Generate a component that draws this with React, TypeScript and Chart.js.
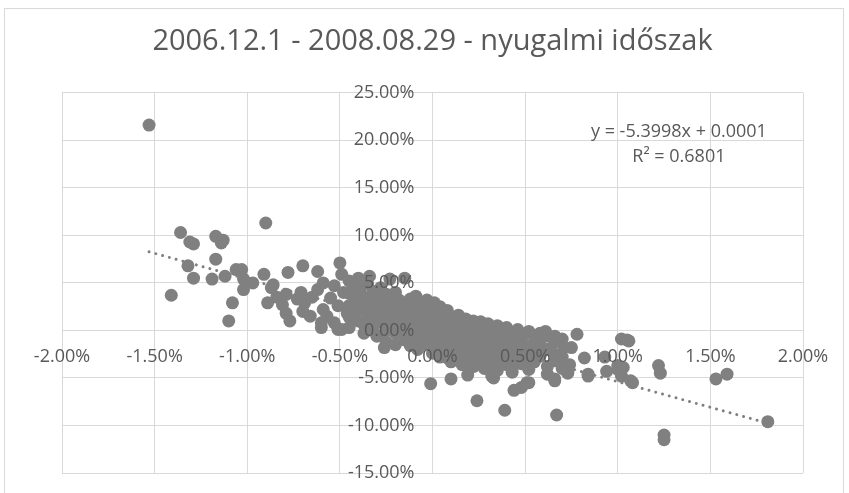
import React, { useEffect, useRef } from "react";
import { Chart, registerables } from "chart.js";

Chart.register(...registerables);

// Values in percent: [x = index return %, y = return %]
const leftTail: [number, number][] = [
  [-1.53, 21.6], [-1.36, 10.3], [-1.31, 9.3], [-1.29, 9.1], [-1.32, 6.8], [-1.29, 5.5],
  [-1.41, 3.7], [-1.17, 9.9], [-1.13, 9.5], [-1.14, 9.2], [-1.17, 7.5], [-1.19, 5.4],
  [-1.12, 5.7], [-1.06, 6.4], [-1.03, 6.4], [-1.02, 5.4], [-0.97, 5.0], [-1.02, 4.3],
  [-1.08, 2.9], [-1.10, 1.0], [-0.90, 11.3], [-0.91, 5.9], [-0.87, 4.5], [-0.86, 4.8],
  [-0.89, 2.9], [-0.78, 6.1], [-0.70, 6.8], [-0.62, 6.2], [-0.50, 7.1],
];

const leftMid: [number, number][] = [
  [-0.79, 3.8], [-0.71, 4.0], [-0.79, 1.8], [-0.70, 2.0], [-0.81, 2.7], [-0.69, 2.9],
  [-0.77, 1.0], [-0.60, 0.8], [-0.62, 4.3], [-0.59, 5.0], [-0.55, 3.4], [-0.59, 2.2],
  [-0.53, 4.7], [-0.51, 2.6], [-0.51, 0.1], [-0.53, 0.8], [-0.49, 0.1], [-0.49, 5.9],
  [-0.57, 1.5], [-0.65, 3.5], [-0.66, 1.5], [-0.48, 4.0], [-0.46, 1.8], [-0.73, 3.3],
  [-0.84, 3.5], [-0.60, 0.3], [-0.34, 5.7], [-0.23, 5.4], [-0.15, 5.5], [-0.09, 3.6],
  [0.01, 2.9], [-0.26, -1.8], [-0.30, -0.6], [-0.17, -0.2], [-0.14, -0.6], [-0.08, -1.3],
  [-0.39, 4.3], [-0.42, 1.5], [-0.33, 0.5],
];

const centerCluster: [number, number][] = [
  [-0.45, 5.2], [-0.45, 3.9], [-0.45, 2.6], [-0.45, 1.4], [-0.45, 0.3],
  [-0.42, 4.6], [-0.42, 3.1], [-0.42, 1.8],
  [-0.40, 5.5], [-0.40, 4.0], [-0.40, 2.8], [-0.40, 1.0],
  [-0.37, 3.5], [-0.37, 2.3], [-0.37, 0.6], [-0.37, -0.3],
  [-0.35, 4.9], [-0.35, 3.0], [-0.35, 1.7],
  [-0.32, 4.1], [-0.32, 2.5], [-0.32, 1.2], [-0.32, 0.2],
  [-0.30, 3.3], [-0.30, 1.9], [-0.30, -0.5],
  [-0.28, 4.5], [-0.28, 2.7], [-0.28, 0.9],
  [-0.25, 3.8], [-0.25, 2.2], [-0.25, 1.4], [-0.25, 0.0], [-0.25, -1.2],
  [-0.22, 3.0], [-0.22, 1.8], [-0.22, 0.6],
  [-0.20, 4.0], [-0.20, 2.5], [-0.20, 1.1], [-0.20, -0.3], [-0.20, -1.5],
  [-0.18, 3.2], [-0.18, 1.6], [-0.18, 0.3],
  [-0.15, 2.8], [-0.15, 2.0], [-0.15, 0.9], [-0.15, -0.5], [-0.15, -1.0],
  [-0.12, 3.3], [-0.12, 1.4], [-0.12, 0.2], [-0.12, -1.6],
  [-0.10, 2.5], [-0.10, 1.7], [-0.10, 0.6], [-0.10, -0.4],
  [-0.08, 2.9], [-0.08, 1.0], [-0.08, -0.8], [-0.08, -2.0],
  [-0.05, 2.2], [-0.05, 1.3], [-0.05, 0.3], [-0.05, -0.6], [-0.05, -1.4],
  [-0.03, 3.2], [-0.03, 1.8], [-0.03, 0.5], [-0.03, -1.1],
  [0.00, 2.7], [0.00, 1.5], [0.00, 0.8], [0.00, -0.2], [0.00, -1.5], [0.00, -2.4],
  [0.02, 2.0], [0.02, 0.4], [0.02, -0.7], [0.02, -1.9],
  [0.04, 2.5], [0.04, 1.1], [0.04, -0.3], [0.04, -1.2], [0.04, -2.8],
  [0.06, 1.7], [0.06, 0.6], [0.06, -0.9], [0.06, -2.2],
  [0.08, 2.1], [0.08, 0.1], [0.08, -1.5], [0.08, -2.9],
  [0.10, 1.4], [0.10, 0.7], [0.10, -0.5], [0.10, -1.8], [0.10, -3.3],
  [0.12, 1.0], [0.12, -0.2], [0.12, -1.1], [0.12, -2.5],
  [0.14, 1.6], [0.14, 0.3], [0.14, -1.6], [0.14, -3.0],
  [0.16, 0.8], [0.16, -0.6], [0.16, -2.0], [0.16, -3.6],
  [0.18, 1.2], [0.18, 0.0], [0.18, -1.3], [0.18, -2.6],
  [0.20, 0.6], [0.20, -0.8], [0.20, -1.9], [0.20, -3.2],
  [0.22, 1.0], [0.22, -0.3], [0.22, -2.4], [0.22, -3.8],
  [0.24, 0.4], [0.24, -1.0], [0.24, -1.7], [0.24, -2.9],
  [0.26, 0.9], [0.26, -0.5], [0.26, -2.2], [0.26, -3.5],
  [0.28, 0.2], [0.28, -1.3], [0.28, -2.7], [0.28, -4.0],
  [0.30, 0.7], [0.30, -0.8], [0.30, -1.9], [0.30, -3.2],
  [0.32, -0.1], [0.32, -1.5], [0.32, -2.5], [0.32, -3.9],
  [0.35, 0.5], [0.35, -1.0], [0.35, -2.1], [0.35, -3.4], [0.35, -4.2],
  [0.38, -0.4], [0.38, -1.7], [0.38, -2.8],
  [0.40, 0.3], [0.40, -1.2], [0.40, -2.4], [0.40, -3.6],
  [0.43, -0.6], [0.43, -1.9], [0.43, -3.1], [0.43, -4.0],
  [0.46, 0.1], [0.46, -1.4], [0.46, -2.6],
  [0.48, -0.9], [0.48, -2.2], [0.48, -3.5],
  [0.52, -0.2], [0.52, -1.6], [0.52, -2.9], [0.52, -4.1],
  [0.55, -0.7], [0.55, -2.4], [0.55, -3.3],
  [0.58, -0.3], [0.58, -1.5], [0.58, -2.7],
  [0.62, -0.6], [0.62, -2.0], [0.62, -3.8], [0.62, -4.6],
  [0.66, -1.2], [0.66, -2.5], [0.66, -3.2],
  [0.70, -0.9], [0.70, -2.8], [0.70, -4.0],
];

const rightTail: [number, number][] = [
  [-0.01, -5.6], [0.10, -5.1], [0.19, -4.7], [0.24, -7.4], [0.33, -5.0], [0.39, -8.4],
  [0.44, -6.3], [0.48, -6.0], [0.52, -5.5], [0.43, -4.4], [0.32, -4.8], [0.66, -5.3],
  [0.67, -8.9], [0.73, -4.5], [0.74, -3.6], [0.78, -0.4], [0.82, -2.9], [0.84, -4.8],
  [0.93, -2.8], [0.94, -4.3], [1.00, -4.1], [1.03, -3.9], [1.02, -0.9], [1.06, -1.1],
  [1.08, -5.5], [1.02, -4.8], [1.22, -3.7], [1.23, -4.5], [1.25, -11.0], [1.25, -11.5],
  [1.53, -5.1], [1.59, -4.6], [1.81, -9.6], [0.52, -0.1], [0.61, -0.1], [0.66, -0.6],
  [0.75, -1.8], [0.71, -1.8], [0.73, -4.4], [0.66, -5.1], [0.84, -4.6], [0.51, -5.5],
  [0.51, -3.7], [0.58, -2.7], [0.62, -2.0], [1.00, -3.7], [1.05, -1.0], [1.07, -5.3],
];

const xTicksMin = -2;
const xTicksMax = 2;
const xStep = 0.5;
const yTicksMin = -15;
const yTicksMax = 25;
const yStep = 5;

// Excel linear trendline: y = -5.3998x + 0.0001 (fractions); in percent units intercept = 0.01
const trendSlope = -5.3998;
const trendInterceptPct = 0.01;
const equationText = "y = -5.3998x + 0.0001";
const r2Text = "R² = 0.6801";
const titleText = "2006.12.1 - 2008.08.29 - nyugalmi időszak";

const FONT = "'Open Sans', 'Liberation Sans', sans-serif";
const TEXT_COLOR = "#595959";
const GRID = "#d9d9d9";

const fmtPct = (v: number) => Number(v).toFixed(2) + "%";

export default function App() {
  const ref = useRef<HTMLCanvasElement | null>(null);

  useEffect(() => {
    if (!ref.current) return;
    const all = [...leftTail, ...leftMid, ...centerCluster, ...rightTail];
    const pts = all.map(([x, y]) => ({ x, y }));
    const xs = all.map((p) => p[0]);
    const xMin = Math.min(...xs);
    const xMax = Math.max(...xs);
    const trend = [
      { x: xMin, y: trendSlope * xMin + trendInterceptPct },
      { x: xMax, y: trendSlope * xMax + trendInterceptPct },
    ];

    // Axis tick labels drawn on top of the markers (as in Excel), from the library's scales
    const labelsPlugin = {
      id: "axisLabelsOnTop",
      afterDatasetsDraw(chart: any) {
        const { ctx, scales } = chart;
        const sx = scales.x;
        const sy = scales.y;
        const x0 = sx.getPixelForValue(0);
        const y0 = sy.getPixelForValue(0);
        ctx.save();
        ctx.fillStyle = TEXT_COLOR;
        ctx.font = `18px ${FONT}`;
        ctx.textBaseline = "middle";
        ctx.textAlign = "right";
        sy.ticks.forEach((t: any) => {
          ctx.fillText(fmtPct(t.value), x0 - 18, sy.getPixelForValue(t.value));
        });
        ctx.textAlign = "center";
        sx.ticks.forEach((t: any) => {
          ctx.fillText(fmtPct(t.value), sx.getPixelForValue(t.value), y0 + 26);
        });
        // trendline label
        const cx = sx.getPixelForValue(1.33);
        ctx.font = `18px ${FONT}`;
        ctx.fillText(equationText, cx, sy.getPixelForValue(20.9));
        ctx.fillText(r2Text, cx, sy.getPixelForValue(18.3));
        ctx.restore();
      },
    };

    const chart = new Chart(ref.current, {
      type: "scatter",
      data: {
        datasets: [
          {
            label: "Hozam",
            data: pts,
            backgroundColor: "#808080",
            borderColor: "#808080",
            borderWidth: 0,
            pointRadius: 6.5,
            order: 1,
          },
          {
            type: "line",
            label: "Trend",
            data: trend,
            borderColor: "#808080",
            borderWidth: 3,
            borderDash: [0.01, 7],
            borderCapStyle: "round",
            pointRadius: 0,
            fill: false,
            order: 2,
          } as any,
        ],
      },
      options: {
        animation: false,
        responsive: false,
        maintainAspectRatio: false,
        layout: { padding: { left: 62, right: 46, bottom: 20, top: 0 } },
        plugins: {
          legend: { display: false },
          tooltip: { enabled: false },
          title: {
            display: true,
            text: titleText,
            color: TEXT_COLOR,
            font: { family: FONT, size: 29, weight: "normal" as any, lineHeight: 1.2 },
            padding: { top: 24, bottom: 34 },
          },
        },
        scales: {
          x: {
            type: "linear",
            min: xTicksMin,
            max: xTicksMax,
            position: { y: 0 } as any,
            grid: { color: GRID, lineWidth: 1, drawTicks: false },
            border: { color: GRID, width: 1 },
            ticks: { stepSize: xStep, display: false },
          },
          y: {
            type: "linear",
            min: yTicksMin,
            max: yTicksMax,
            position: { x: 0 } as any,
            grid: { color: GRID, lineWidth: 1, drawTicks: false },
            border: { color: GRID, width: 1 },
            ticks: { stepSize: yStep, display: false },
          },
        },
      },
      plugins: [labelsPlugin],
    });
    return () => chart.destroy();
  }, []);

  return (
    <div style={{ position: "absolute", left: 0, top: 0, width: 849, height: 493, overflow: "hidden", background: "#fff" }}>
      <div
        style={{
          position: "absolute",
          left: 4,
          top: 8,
          width: 838,
          height: 520,
          border: "1px solid #d9d9d9",
        }}
      />
      <canvas ref={ref} width={849} height={493} style={{ position: "absolute", left: 0, top: 0, width: 849, height: 493 }} />
    </div>
  );
}
